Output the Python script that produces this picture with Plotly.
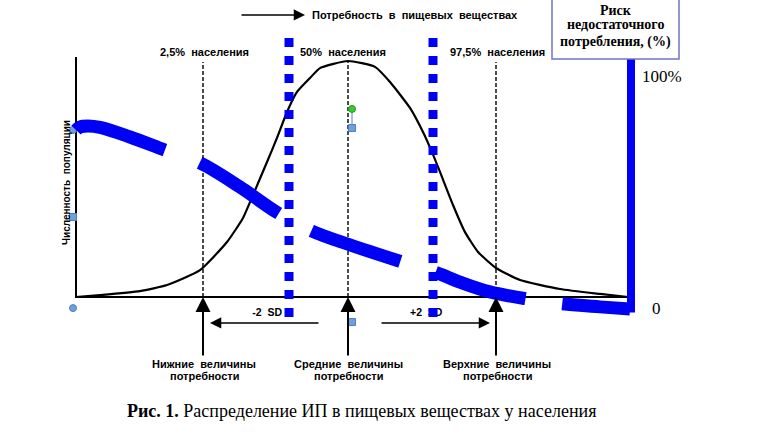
import plotly.graph_objects as go

# ---------------- data (intake units on x, % of peak population on y) ----------------
curve_x = [0, 2.4, 6.4, 9.1, 12.4, 15.1, 16.7, 17.7, 19.1, 20.1, 21.1, 22.1, 23.4, 24.4,
           27.2, 29.9, 31.4, 33.4, 34.7, 35.6, 36.4, 37.7, 38.9, 40.2, 42.0, 44.4, 48.4, 52.4, 55.2]
curve_y = [0, 0.8, 2.5, 5.1, 11.4, 23.3, 33.5, 43.2, 57.2, 67.4, 78.4, 86.9, 92.8, 97.0,
           100, 97.5, 91.1, 80.1, 69.9, 61.4, 53.0, 39.0, 27.5, 19.1, 12.3, 7.2, 3.4, 1.3, 0]

# risk of inadequate intake, %
risk_x = [0, 0.4, 1.2, 2.4, 5.4, 8.9, 12.4, 16.4, 20.2, 23.6, 27.4, 32.6, 36.1, 38.4,
          41.4, 45.1, 48.9, 52.4, 55.4]
risk_y = [76.5, 77.8, 78.2, 77.6, 73.5, 67.9, 62.4, 52.1, 41.0, 33.3, 27.4, 20.1, 15.4, 11.5,
          7.3, 4.3, 2.1, 0.9, 0]

lower_req = 12.7      # 2.5% of population, -2 SD
mean_req = 27.2       # 50% of population
upper_req = 42.0      # 97.5% of population, +2 SD
blue_marks = [21.3, 35.7]
x_end = 55.4

top_labels = ["2,5%\u00a0\u00a0населения", "50%\u00a0\u00a0населения", "97,5%\u00a0\u00a0населения"]
top_label_x = [12.8, 26.7, 42.1]
bottom_labels = [("Нижние\u00a0\u00a0величины", "потребности"),
                 ("Средние\u00a0\u00a0величины", "потребности"),
                 ("Верхние\u00a0\u00a0величины", "потребности")]
bottom_label_x = [12.8, 27.2, 42.1]

SANS = "Liberation Sans"
SERIF = "Liberation Serif"
BLUE = "#0000F5"
HANDLE = "#6F9FDC"
HANDLE_LINE = "#4F7FBF"

fig = go.Figure()

# axes of the main diagram
fig.add_trace(go.Scatter(x=[0, 0, x_end], y=[101.7, 0, 0], mode="lines",
                         line=dict(color="black", width=2), hoverinfo="skip"))

# dashed reference lines
for xv in [lower_req, mean_req, upper_req]:
    fig.add_trace(go.Scatter(x=[xv, xv], y=[0, 99.6], mode="lines",
                             line=dict(color="black", width=1.4, dash="4px,2px"), hoverinfo="skip"))

# distribution curve
fig.add_trace(go.Scatter(x=curve_x, y=curve_y, mode="lines",
                         line=dict(color="black", width=2.2, shape="spline", smoothing=0.5),
                         hoverinfo="skip"))

# SD labels (under the blue dotted lines)
fig.add_trace(go.Scatter(x=[20.6], y=[-6.8], mode="text", text=["<b>-2\u00a0\u00a0SD</b>"],
                         textposition="middle left", textfont=dict(family=SANS, size=10.5, color="black"),
                         hoverinfo="skip"))
fig.add_trace(go.Scatter(x=[33.4], y=[-6.8], mode="text", text=["<b>+2\u00a0\u00a0SD</b>"],
                         textposition="middle right", textfont=dict(family=SANS, size=10.5, color="black"),
                         hoverinfo="skip"))

# blue dotted lines
for xv in blue_marks:
    fig.add_trace(go.Scatter(x=[xv, xv], y=[109.7, -8.5], mode="lines",
                             line=dict(color=BLUE, width=9, dash="9px,9px"), hoverinfo="skip"))

# risk curve (secondary axis)
fig.add_trace(go.Scatter(x=risk_x, y=risk_y, yaxis="y2", mode="lines",
                         line=dict(color=BLUE, width=13, shape="spline", dash="94px,37px"), hoverinfo="skip"))
fig.add_trace(go.Scatter(x=[x_end + 0.1, x_end + 0.1], y=[-1.5, 108], yaxis="y2", mode="lines",
                         line=dict(color=BLUE, width=8), hoverinfo="skip"))

# selection handles
fig.add_trace(go.Scatter(x=[27.6, 27.6], y=[79.7, 71.6], mode="lines",
                         line=dict(color=HANDLE_LINE, width=1), hoverinfo="skip"))
fig.add_trace(go.Scatter(x=[-0.3, -0.3, 55.5, 55.5, 27.6], y=[70.8, -4.7, 70.8, -4.7, 79.7], mode="markers",
                         marker=dict(symbol="circle", size=7,
                                     color=[HANDLE, HANDLE, HANDLE, HANDLE, "#33CC33"],
                                     line=dict(color=[HANDLE_LINE] * 4 + ["#229922"], width=1)),
                         hoverinfo="skip"))
fig.add_trace(go.Scatter(x=[-0.3, 55.5, 27.6, 27.6], y=[33.9, 33.9, 71.6, -10.6], mode="markers",
                         marker=dict(symbol="square", size=7, color=HANDLE, line=dict(color=HANDLE_LINE, width=1)),
                         hoverinfo="skip"))

ann = []
# arrows
for xv in [lower_req, mean_req, upper_req]:
    ann.append(dict(x=xv, y=0, ax=xv, ay=-25.4, xref="x", yref="y", axref="x", ayref="y", text="",
                    showarrow=True, arrowhead=2, arrowsize=1.5, arrowwidth=2, arrowcolor="black"))
ann.append(dict(x=13.4, y=-11.0, ax=24.4, ay=-11.0, xref="x", yref="y", axref="x", ayref="y", text="",
                showarrow=True, arrowhead=2, arrowsize=1.5, arrowwidth=1.5, arrowcolor="black"))
ann.append(dict(x=41.4, y=-11.0, ax=30.4, ay=-11.0, xref="x", yref="y", axref="x", ayref="y", text="",
                showarrow=True, arrowhead=2, arrowsize=1.5, arrowwidth=1.5, arrowcolor="black"))
ann.append(dict(x=22.9, y=119.5, ax=16.4, ay=119.5, xref="x", yref="y", axref="x", ayref="y", text="",
                showarrow=True, arrowhead=2, arrowsize=1.5, arrowwidth=1.5, arrowcolor="black"))

# texts
ann.append(dict(x=23.4, y=119.5, xref="x", yref="y", xanchor="left", yanchor="middle", showarrow=False,
                text="<b>Потребность\u00a0\u00a0в\u00a0\u00a0пищевых\u00a0\u00a0веществах</b>",
                font=dict(family=SANS, size=11, color="black")))
for t, xv in zip(top_labels, top_label_x):
    ann.append(dict(x=xv, y=103.8, xref="x", yref="y", showarrow=False, text="<b>" + t + "</b>",
                    font=dict(family=SANS, size=11, color="black")))
for (l1, l2), xv in zip(bottom_labels, bottom_label_x):
    ann.append(dict(x=xv, y=-28.2, xref="x", yref="y", showarrow=False, text="<b>" + l1 + "</b>",
                    font=dict(family=SANS, size=11, color="black")))
    ann.append(dict(x=xv, y=-33.6, xref="x", yref="y", showarrow=False, text="<b>" + l2 + "</b>",
                    font=dict(family=SANS, size=11, color="black")))
ann.append(dict(x=-1.0, y=48.3, xref="x", yref="y", showarrow=False, textangle=-90,
                text="<b>Численность\u00a0\u00a0популяции</b>", font=dict(family=SANS, size=10, color="black")))

# risk box text
for t, yv in zip(["Риск", "недостаточного", "потребления, (%)"], [121.6, 115.3, 108.1]):
    ann.append(dict(x=53.95, y=yv, xref="x", yref="y", showarrow=False, text="<b>" + t + "</b>",
                    font=dict(family=SERIF, size=14, color="black")))
ann.append(dict(x=56.4, y=93.6, xref="x", yref="y", xanchor="left", showarrow=False, text="100%",
                font=dict(family=SERIF, size=17, color="black")))
ann.append(dict(x=58.0, y=-4.7, xref="x", yref="y", showarrow=False, text="0",
                font=dict(family=SERIF, size=17, color="black")))

# caption
ann.append(dict(x=28.5, y=-48.3, xref="x", yref="y", showarrow=False,
                text="<b>Рис. 1.</b> Распределение ИП в пищевых веществах у населения",
                font=dict(family=SERIF, size=18, color="black")))

fig.update_layout(
    width=776, height=435, autosize=False,
    margin=dict(l=0, r=0, t=0, b=0),
    paper_bgcolor="white", plot_bgcolor="white",
    showlegend=False,
    xaxis=dict(range=[-7.6, 70.0], visible=False, fixedrange=True),
    yaxis=dict(range=[-58.47, 125.85], visible=False, fixedrange=True),
    yaxis2=dict(range=[-53.85, 132.05], visible=False, overlaying="y", fixedrange=True),
    annotations=ann,
    shapes=[dict(type="rect", xref="x", yref="y", x0=47.6, x1=60.3, y0=100.8, y1=126.7,
                 fillcolor="white", line=dict(color="#7373C8", width=1.5), layer="above")],
)

fig.write_html("out.html", config={"displayModeBar": False, "staticPlot": True},
               post_script="document.body.style.margin='0';")
